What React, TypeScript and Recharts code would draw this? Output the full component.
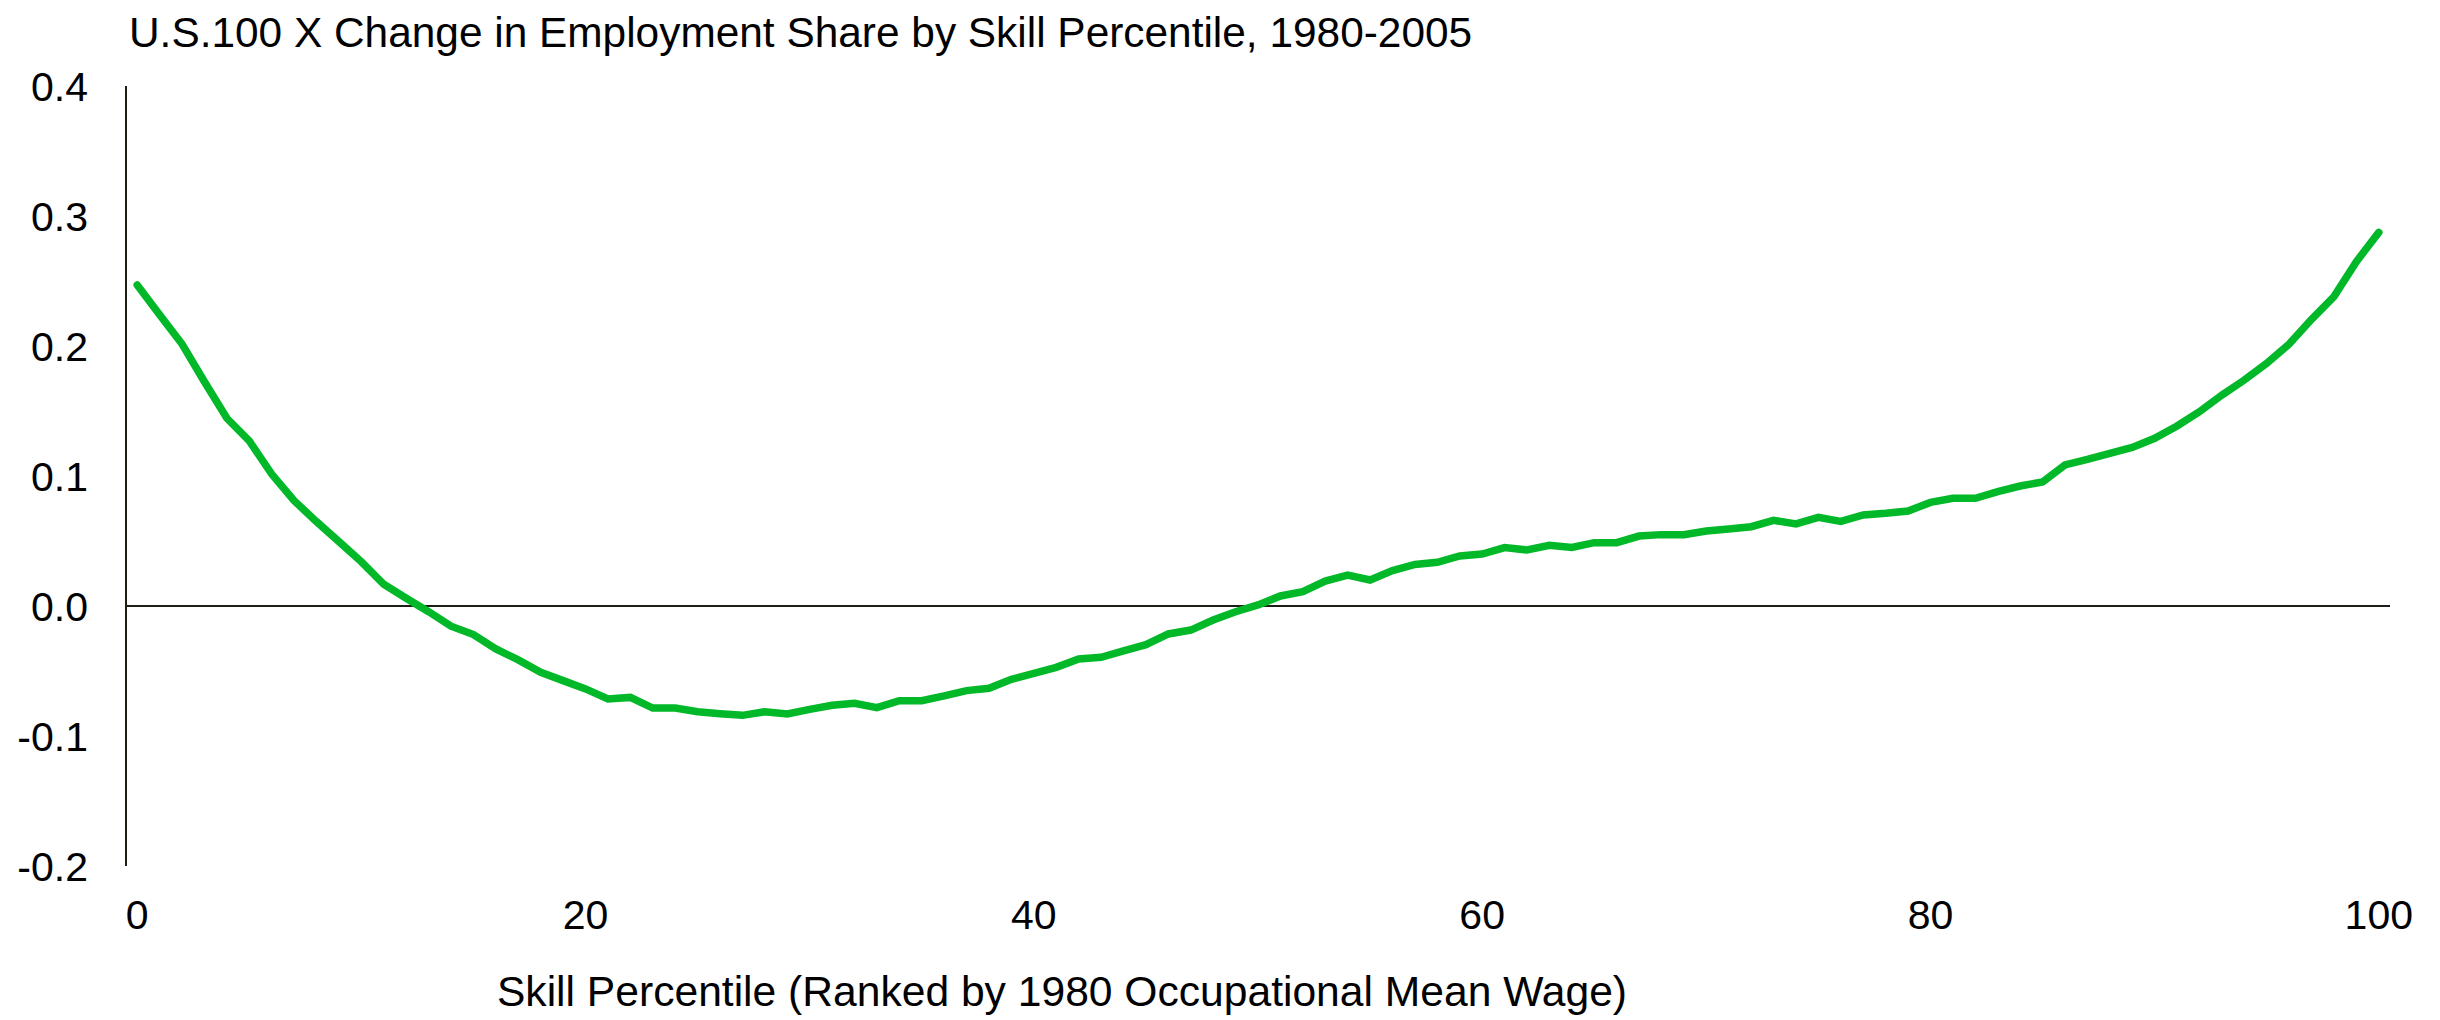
import { LineChart, Line, XAxis, YAxis, ReferenceLine } from "recharts";

// percentil de habilidad (eje X)
const percentiles = [
  0, 1, 2, 3, 4, 5, 6, 7, 8, 9, 10, 11, 12, 13, 14, 15, 16, 17, 18, 19, 20,
  21, 22, 23, 24, 25, 26, 27, 28, 29, 30, 31, 32, 33, 34, 35, 36, 37, 38, 39, 40,
  41, 42, 43, 44, 45, 46, 47, 48, 49, 50, 51, 52, 53, 54, 55, 56, 57, 58, 59, 60,
  61, 62, 63, 64, 65, 66, 67, 68, 69, 70, 71, 72, 73, 74, 75, 76, 77, 78, 79, 80,
  81, 82, 83, 84, 85, 86, 87, 88, 89, 90, 91, 92, 93, 94, 95, 96, 97, 98, 99, 100,
];

// 100 x cambio en la participación del empleo, 1980-2005
const shareChange = [
  0.247, 0.224, 0.2015, 0.1725, 0.1444, 0.127, 0.1015, 0.081, 0.0649, 0.0495,
  0.034, 0.0167, 0.006, -0.0044, -0.0155, -0.022, -0.033, -0.0415, -0.051, -0.0574,
  -0.0638, -0.0715, -0.0703, -0.0785, -0.0785, -0.0813, -0.0828, -0.0841, -0.0813, -0.0831,
  -0.0795, -0.0764, -0.0749, -0.0782, -0.0728, -0.0728, -0.0692, -0.0651, -0.0633, -0.0564,
  -0.0518, -0.0472, -0.0408, -0.0395, -0.0346, -0.0297, -0.0215, -0.0185, -0.0108, -0.0044,
  0.0008, 0.0077, 0.011, 0.0192, 0.0238, 0.02, 0.0272, 0.032, 0.0336, 0.0385,
  0.04, 0.0449, 0.0431, 0.0467, 0.0451, 0.0487, 0.0487, 0.0538, 0.0549, 0.0549,
  0.0577, 0.0592, 0.061, 0.0659, 0.0631, 0.0682, 0.0651, 0.07, 0.0713, 0.0731,
  0.0797, 0.0828, 0.0828, 0.088, 0.0923, 0.0954, 0.1085, 0.1128, 0.1174, 0.122,
  0.129, 0.1385, 0.1495, 0.1623, 0.1738, 0.1867, 0.2015, 0.2205, 0.238, 0.2649,
  0.2874,
];

const xTicks = [0, 20, 40, 60, 80, 100];
const yTicks = [-0.2, -0.1, 0, 0.1, 0.2, 0.3, 0.4];

const TITLE = "U.S.100 X Change in Employment Share by Skill Percentile, 1980-2005";
const X_TITLE = "Skill Percentile (Ranked by 1980 Occupational Mean Wage)";

const FONT = '"Liberation Sans", Arial, sans-serif';
const AXIS_COLOR = "#1c1f14";
const LINE_COLOR = "#00b828";

const chartData = percentiles.map((p, i) => ({ p, v: shareChange[i] }));

export default function App() {
  return (
    <div
      style={{
        position: "absolute",
        left: 0,
        top: 0,
        width: 2440,
        height: 1020,
        background: "#fff",
        fontFamily: FONT,
      }}
    >
      <div
        style={{
          position: "absolute",
          left: 129,
          top: 12,
          fontSize: 42.4,
          lineHeight: "42px",
          color: "#000",
          whiteSpace: "nowrap",
        }}
      >
        {TITLE}
      </div>
      <LineChart
        width={2440}
        height={1020}
        data={chartData}
        margin={{ top: 86, right: 50, bottom: 94, left: 0 }}
      >
        <XAxis
          dataKey="p"
          type="number"
          domain={[-0.5, 100.5]}
          ticks={xTicks}
          axisLine={false}
          tickLine={false}
          tickSize={0}
          tickMargin={34}
          height={60}
          interval={0}
          tick={{ fontSize: 41, fill: "#000", fontFamily: FONT }}
        />
        <YAxis
          type="number"
          domain={[-0.2, 0.4]}
          ticks={yTicks}
          width={126}
          axisLine={{ stroke: AXIS_COLOR, strokeWidth: 2 }}
          tickLine={false}
          tickSize={0}
          tickMargin={38}
          interval={0}
          tickFormatter={(v: number) => v.toFixed(1)}
          tick={{ fontSize: 41, fill: "#000", fontFamily: FONT }}
        />
        <ReferenceLine y={0} stroke={AXIS_COLOR} strokeWidth={2} />
        <Line
          type="linear"
          dataKey="v"
          stroke={LINE_COLOR}
          strokeWidth={7.5}
          strokeLinecap="round"
          dot={false}
          activeDot={false}
          isAnimationActive={false}
        />
      </LineChart>
      <div
        style={{
          position: "absolute",
          left: 0,
          width: 2124,
          top: 970,
          textAlign: "center",
          fontSize: 42.6,
          lineHeight: "42px",
          color: "#000",
          whiteSpace: "nowrap",
        }}
      >
        {X_TITLE}
      </div>
    </div>
  );
}
